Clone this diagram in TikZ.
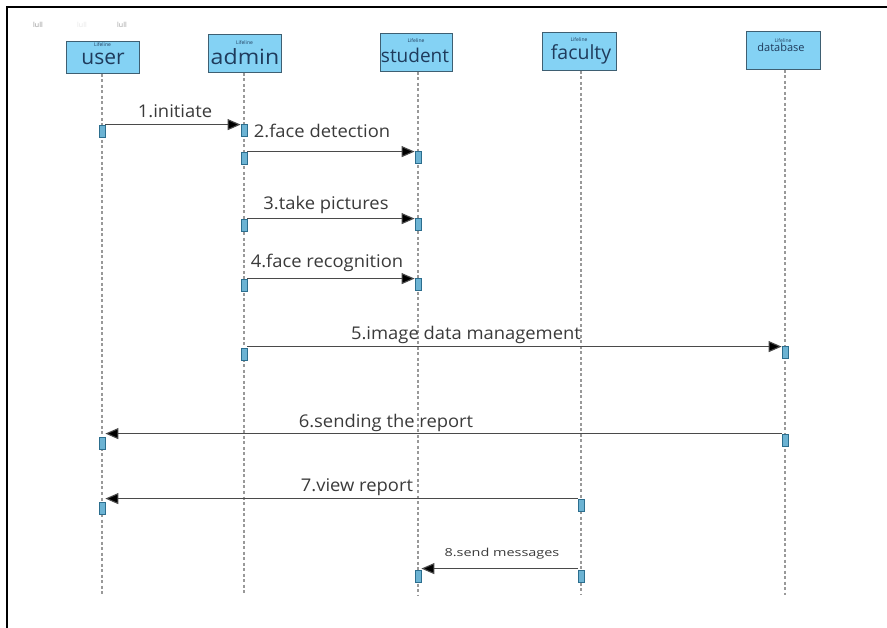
\documentclass[tikz,border=0pt]{standalone}
\usepackage{fontspec}
\setmainfont{Open Sans}
\usetikzlibrary{arrows.meta}
\definecolor{boxfill}{HTML}{84D2F4}
\definecolor{boxline}{HTML}{3E5F72}
\definecolor{namecol}{HTML}{1F3B5C}
\definecolor{actfill}{HTML}{6CB3D3}
\definecolor{actline}{HTML}{2C6E8E}
\definecolor{msgline}{HTML}{4A4A4A}
\definecolor{labcol}{HTML}{3A3A3A}
\tikzset{
  lifebox/.style={draw=boxline, line width=1pt, fill=boxfill, inner sep=0pt},
  lifename/.style={text=namecol, inner sep=0pt},
  lifetag/.style={text=namecol, font=\fontsize{5}{5}\selectfont, inner sep=0pt},
  lifeline/.style={draw=gray!80, line width=1.2pt, dash pattern=on 3pt off 2.5pt},
  act/.style={draw=actline, fill=actfill, line width=0.8pt, minimum width=6pt, minimum height=12pt, inner sep=0pt},
  msg/.style={draw=msgline, line width=1.1pt, -{Triangle[length=13pt,width=11pt,fill=black]}},
  msglab/.style={text=labcol, font=\fontsize{17.5}{17.5}\selectfont, xscale=1.05, inner sep=0pt},
  frame/.style={draw=black, line width=2pt},
  hdr/.style={font=\fontsize{7}{7}\selectfont, inner sep=0pt},
}
\begin{document}
\begin{tikzpicture}[x=1pt,y=-1pt]
\useasboundingbox (0,0) rectangle (887,628);
% page frame (top and left edges)
\draw[frame] (887,7) -- (7,7) -- (7,628);
% faint header text
\node[hdr, text=gray!85] (hdrA) at (38,25) {lull};
\node[hdr, text=gray!20] (hdrB) at (82,25) {lull};
\node[hdr, text=gray!75] (hdrC) at (122,25) {lull};
% lifeline heads
\foreach \nm/\xl/\xr/\yt/\yb/\tagy in {
  user/66/139/42/74/45,
  admin/208/281/35/73/43,
  student/380/452/34/72/41,
  faculty/542/616/33/71/40,
  database/746/820/32/70/41}{
  \path[lifebox] (\xl,\yt) rectangle (\xr,\yb);
  \node[lifetag] (\nm tag) at ({(\xl+\xr)/2},\tagy) {Lifeline};
}
\node[lifename, font=\fontsize{21}{21}\selectfont] (userhd) at (103,59) {user};
\node[lifename, font=\fontsize{21}{21}\selectfont, xscale=1.1] (adminhd) at (245,57) {admin};
\node[lifename, font=\fontsize{19}{19}\selectfont] (studenthd) at (415,55) {student};
\node[lifename, font=\fontsize{19.5}{19.5}\selectfont] (facultyhd) at (581,54) {faculty};
\node[lifename, font=\fontsize{11}{11}\selectfont] (databasehd) at (781,47) {database};
% lifelines
\foreach \nm/\xx/\yt in {user/102/74, admin/244/73, student/418/72, faculty/581/71, database/785/70}{
  \coordinate (\nm top) at (\xx,\yt);
  \coordinate (\nm bot) at (\xx,595);
  \draw[lifeline] (\nm top) -- (\nm bot);
}
% activation boxes
\node[act] (u1) at (102,131) {};
\node[act] (a1) at (244,130) {};
\node[act] (a2) at (244,158) {};
\node[act] (s2) at (418,157) {};
\node[act] (a3) at (244,225) {};
\node[act] (s3) at (418,224) {};
\node[act] (a4) at (244,285) {};
\node[act] (s4) at (418,284) {};
\node[act] (a5) at (244,354) {};
\node[act] (d5) at (785,352) {};
\node[act] (d6) at (785,440) {};
\node[act] (u6) at (102,443) {};
\node[act] (f7) at (581,505) {};
\node[act] (u7) at (102,508) {};
\node[act] (f8) at (581,576) {};
\node[act] (s8) at (418,576) {};
% messages
\draw[msg] (u1.north east) coordinate (m1s) -- (m1s -| a1.west);
\node[msglab] (l1) at (175,111) {1.initiate};
\draw[msg] (a2.north east) coordinate (m2s) -- (m2s -| s2.west);
\node[msglab] (l2) at (322,131) {2.face detection};
\draw[msg] (a3.north east) coordinate (m3s) -- (m3s -| s3.west);
\node[msglab] (l3) at (326,205) {3.take pictures};
\draw[msg] (a4.north east) coordinate (m4s) -- (m4s -| s4.west);
\node[msglab] (l4) at (327,263) {4.face recognition};
\draw[msg] (a5.north east) ++(0,-1) coordinate (m5s) -- (m5s -| d5.west);
\node[msglab] (l5) at (466,335) {5.image data management};
\draw[msg] (d6.north west) coordinate (m6s) -- (m6s -| u6.east);
\node[msglab] (l6) at (386,423) {6.sending the report};
\draw[msg] (f7.north west) coordinate (m7s) -- (m7s -| u7.east);
\node[msglab] (l7) at (357,487) {7.view report};
\draw[msg] (f8.north west) ++(0,-1) coordinate (m8s) -- (m8s -| s8.east);
\node[msglab, font=\fontsize{11}{11}\selectfont, xscale=1.25] (l8) at (502,554) {8.send messages};
\end{tikzpicture}
\end{document}
